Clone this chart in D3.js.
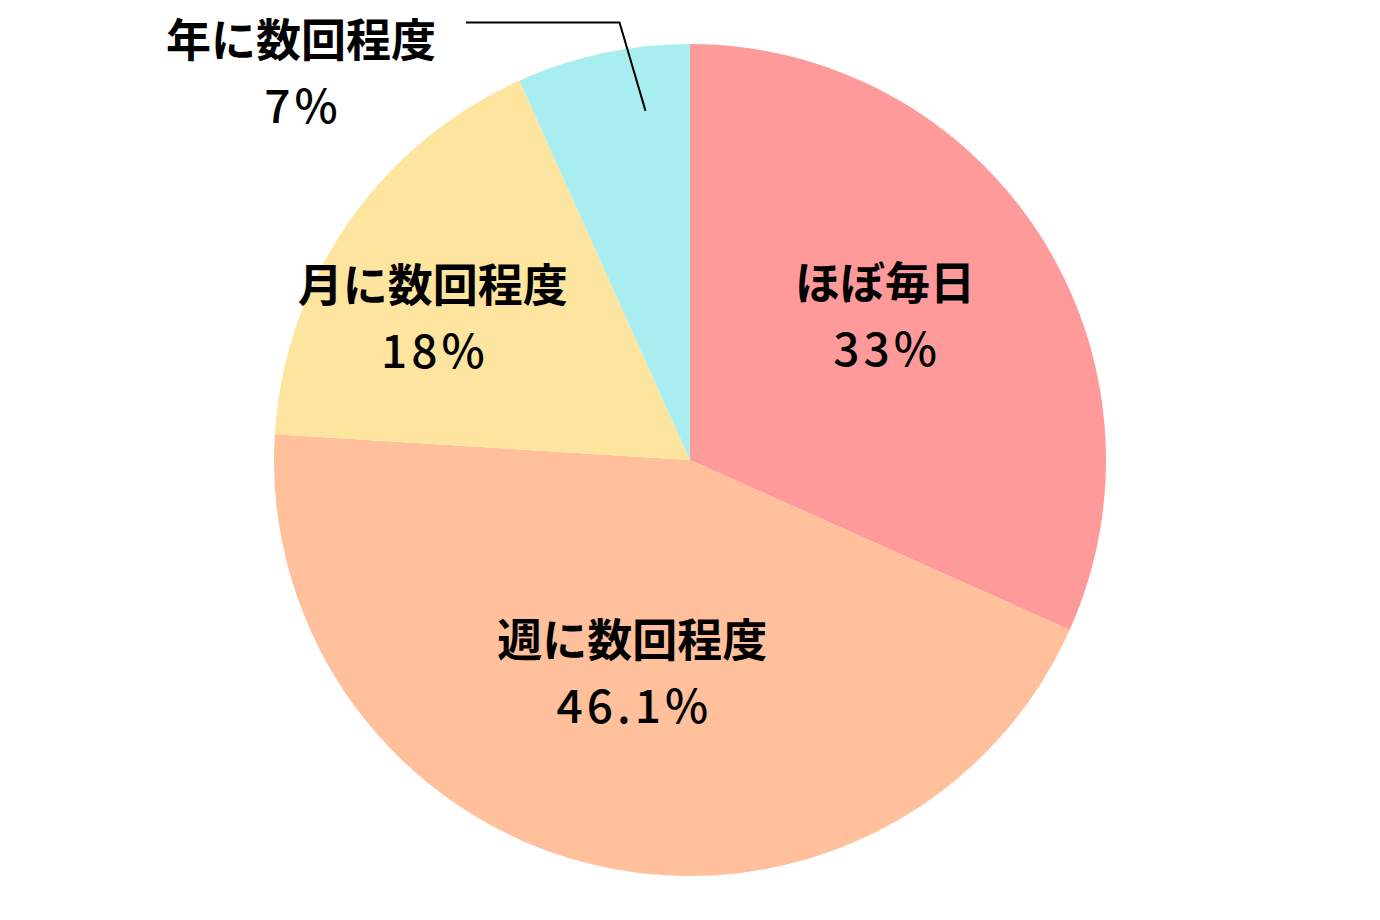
<!DOCTYPE html>
<html>
<head>
<meta charset="utf-8">
<script src="https://cdn.jsdelivr.net/npm/d3@7"></script>
<style>
  body { margin: 0; background: #fff; }
  .cat { font-family: "Noto Sans CJK JP", sans-serif; font-weight: 700; font-size: 45px; fill: #000; }
  .pct { font-family: "Noto Sans CJK JP", sans-serif; font-weight: 500; font-size: 46px; fill: #000; letter-spacing: 4px; }
</style>
</head>
<body>
<div id="chart"></div>
<script>
// data
const categories = ['ほぼ毎日', '週に数回程度', '月に数回程度', '年に数回程度'];
const values = [33, 46.1, 18, 7];
const pctLabels = ['33%', '46.1%', '18%', '7%'];
const colors = ['#fe9a9a', '#ffc09b', '#fde59f', '#a8eef0'];

const svgWidth = 1380;
const svgHeight = 920;
const cx = 690, cy = 460, radius = 416;

// label tweaks (layout only), offsets from the label-arc centroid
const labelNudge = [[3, -36], [-3, -25], [-69, -28], null];
const outerLabel = { x: 301, y: 57 };

const svg = d3.select('#chart')
    .append('svg')
    .attr('width', svgWidth)
    .attr('height', svgHeight);

const chartGroup = svg.append('g')
    .attr('transform', `translate(${cx}, ${cy})`);

const rows = categories.map((c, i) => ({ name: c, value: values[i], pct: pctLabels[i], color: colors[i], i: i }));

const pie = d3.pie()
    .sort(null)
    .value(d => d.value);

const arc = d3.arc()
    .innerRadius(0)
    .outerRadius(radius);

const labelArc = d3.arc()
    .innerRadius(radius * 0.55)
    .outerRadius(radius * 0.55);

const arcs = pie(rows);

chartGroup.selectAll('path.slice')
    .data(arcs)
    .enter()
    .append('path')
    .classed('slice', true)
    .attr('d', arc)
    .attr('fill', d => d.data.color);

// inside labels
const inner = arcs.filter(d => labelNudge[d.data.i]);
const labels = chartGroup.selectAll('g.lbl')
    .data(inner)
    .enter()
    .append('g')
    .classed('lbl', true)
    .attr('transform', d => {
        const c = labelArc.centroid(d);
        const n = labelNudge[d.data.i];
        return `translate(${c[0] + n[0]}, ${c[1] + n[1]})`;
    });

labels.append('text')
    .classed('cat', true)
    .attr('text-anchor', 'middle')
    .text(d => d.data.name);

labels.append('text')
    .classed('pct', true)
    .attr('text-anchor', 'middle')
    .attr('x', 2)
    .attr('y', 66)
    .text(d => d.data.pct);

// outside label with leader line for the small slice
const small = arcs[3];
const outer = svg.append('g')
    .attr('transform', `translate(${outerLabel.x}, ${outerLabel.y})`);
outer.append('text')
    .classed('cat', true)
    .attr('text-anchor', 'middle')
    .text(small.data.name);
outer.append('text')
    .classed('pct', true)
    .attr('text-anchor', 'middle')
    .attr('x', 2)
    .attr('y', 66)
    .text(small.data.pct);

// leader: end point inside the slice, elbow above the pie
const endAngle = small.startAngle + (small.endAngle - small.startAngle) * 0.7;
const endR = radius * 0.846;
const endPt = [cx + Math.sin(endAngle) * endR, cy - Math.cos(endAngle) * endR];
const elbow = [endPt[0] - 26, 22.5];
const startPt = [466, 22.5];

svg.append('path')
    .attr('d', d3.line()([startPt, elbow, endPt]))
    .attr('fill', 'none')
    .attr('stroke', '#000')
    .attr('stroke-width', 2);
</script>
</body>
</html>
